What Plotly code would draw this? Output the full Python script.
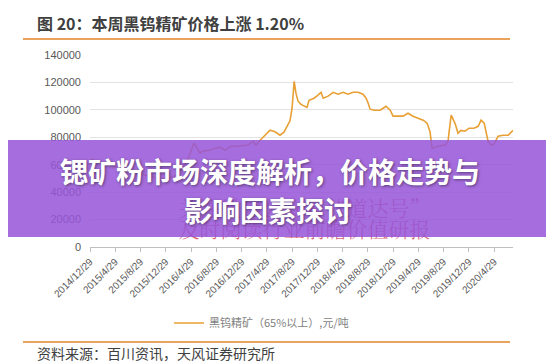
import plotly.graph_objects as go

# ---- data ----
dates = [
    "2014-12-29", "2015-02-16", "2015-04-05", "2015-05-24", "2015-07-12", "2015-08-30",
    "2015-10-18", "2015-12-06", "2016-01-14", "2016-02-22", "2016-03-22", "2016-04-20",
    "2016-04-29", "2016-05-13", "2016-05-28", "2016-06-11", "2016-06-26", "2016-07-30",
    "2016-08-23", "2016-09-16", "2016-10-10", "2016-11-08", "2016-12-12", "2017-01-29",
    "2017-02-22", "2017-03-08", "2017-03-28", "2017-04-21", "2017-05-15", "2017-06-08",
    "2017-07-02", "2017-07-21", "2017-08-10", "2017-08-19", "2017-08-29", "2017-09-08",
    "2017-09-17", "2017-09-27", "2017-10-11", "2017-10-26", "2017-11-09", "2017-11-19",
    "2017-12-13", "2018-01-01", "2018-01-16", "2018-01-26", "2018-02-19", "2018-03-15",
    "2018-04-08", "2018-05-02", "2018-05-26", "2018-06-19", "2018-07-13", "2018-08-06",
    "2018-08-21", "2018-08-31", "2018-09-09", "2018-09-28", "2018-10-27", "2018-11-11",
    "2018-11-25", "2018-12-15", "2018-12-29", "2019-02-15", "2019-03-11", "2019-04-04",
    "2019-04-29", "2019-05-23", "2019-06-11", "2019-06-25", "2019-07-05", "2019-08-03",
    "2019-09-06", "2019-09-20", "2019-09-25", "2019-10-05", "2019-10-24", "2019-11-07",
    "2019-11-21", "2019-12-11", "2019-12-30", "2020-01-23", "2020-02-12", "2020-02-26",
    "2020-03-12", "2020-03-21", "2020-03-31", "2020-04-15", "2020-04-29", "2020-05-18",
    "2020-06-11", "2020-07-06", "2020-07-29",
]
prices = [
    64000, 62000, 60000, 57000, 55000, 53000,
    51000, 49500, 50000, 53000, 58000, 66000,
    70000, 75700, 72000, 68400, 69900, 70600,
    72000, 72800, 70600, 73500, 73500, 74300,
    77200, 74300, 77900, 81500, 85200, 84000,
    81500, 83700, 89000, 92000, 101000, 120800,
    112000, 106300, 104000, 102600, 101800, 107000,
    108500, 110700, 112800, 108500, 110000, 112800,
    111400, 112800, 111400, 112800, 112800, 111400,
    108500, 104800, 100500, 99700, 99700, 101200,
    102600, 99700, 95400, 95400, 97500, 95400,
    93900, 92500, 90300, 84000, 72000, 73500,
    74300, 77200, 84000, 96100, 90000, 83000,
    85000, 84400, 86600, 86600, 88000, 92500,
    90300, 83000, 77000, 74300, 75000, 80800,
    81500, 81500, 85000,
]
tick_dates = [
    "2014-12-29", "2015-04-29", "2015-08-29", "2015-12-29", "2016-04-29", "2016-08-29",
    "2016-12-29", "2017-04-29", "2017-08-29", "2017-12-29", "2018-04-29", "2018-08-29",
    "2018-12-29", "2019-04-29", "2019-08-29", "2019-12-29", "2020-04-29",
]
tick_labels = [
    "2014/12/29", "2015/4/29", "2015/8/29", "2015/12/29", "2016/4/29", "2016/8/29",
    "2016/12/29", "2017/4/29", "2017/8/29", "2017/12/29", "2018/4/29", "2018/8/29",
    "2018/12/29", "2019/4/29", "2019/8/29", "2019/12/29", "2020/4/29",
]
series_name = "黑钨精矿（65%以上）,元/吨"
title_text = "图 20：本周黑钨精矿价格上涨 1.20%"
source_text = "资料来源：百川资讯，天风证券研究所"
banner_line1 = "锶矿粉市场深度解析，价格走势与"
banner_line2 = "影响因素探讨"
watermark = ["关注微信公众号“道达号”", "及时阅读行业前瞻价值研报"]

W, H = 554, 362
L, R, T, B = 82, 49, 47, 123
pw, ph = W - L - R, H - T - B


def px(x):
    return (x - L) / pw


def py(y):
    return (H - B - y) / ph


CJK = "Noto Sans CJK SC"
LAT = "Liberation Sans, Arial, sans-serif"
ORANGE_RULE = "#E9A35F"
LINE_COLOR = "#E8A035"

fig = go.Figure()
fig.add_trace(go.Scatter(
    x=dates, y=prices, mode="lines", name=series_name,
    line=dict(color=LINE_COLOR, width=1.6),
    hoverinfo="skip",
))
# watermark text (lies beneath the banner)
fig.add_trace(go.Scatter(
    x=[0.507, 0.507], y=[py(203), py(224)], xaxis="x2", yaxis="y2",
    mode="text", text=watermark, showlegend=False, cliponaxis=False,
    textfont=dict(family="Noto Serif CJK SC, " + CJK, size=21,
                  color="rgba(205,45,70,0.75)", weight=300),
    hoverinfo="skip",
))

fig.update_layout(
    width=W, height=H,
    margin=dict(l=L, r=R, t=T, b=B),
    paper_bgcolor="white", plot_bgcolor="white",
    showlegend=True,
    legend=dict(
        orientation="h", x=px(161), xanchor="left", y=py(315), yanchor="middle",
        font=dict(family=CJK, size=11, color="#7F7F7F"), itemwidth=30,
        bgcolor="rgba(0,0,0,0)",
    ),
    xaxis=dict(
        type="date", range=["2014-12-29", "2020-07-29"],
        tickvals=tick_dates, ticktext=tick_labels, tickangle=-45,
        tickfont=dict(family=LAT, size=10, color="#595959"),
        showgrid=False, showline=True, linecolor="#BFBFBF", linewidth=1,
        ticks="outside", ticklen=4, tickcolor="#BFBFBF", zeroline=False,
    ),
    yaxis=dict(
        range=[0, 140000], dtick=20000, tickformat="d",
        tickfont=dict(family=LAT, size=11, color="#595959"),
        showgrid=True, gridcolor="#E3E3E3", gridwidth=1,
        showline=False, zeroline=False, ticks="", ticklabelstandoff=8,
    ),
    xaxis2=dict(overlaying="x", range=[0, 1], visible=False),
    yaxis2=dict(overlaying="y", range=[0, 1], visible=False),
)

# rules above and below
fig.add_shape(type="line", xref="paper", yref="paper",
              x0=px(15), x1=px(502), y0=py(31), y1=py(31),
              line=dict(color=ORANGE_RULE, width=2))
fig.add_shape(type="line", xref="paper", yref="paper",
              x0=px(15), x1=px(502), y0=py(334), y1=py(334),
              line=dict(color=ORANGE_RULE, width=2))
# purple banner
fig.add_shape(type="rect", xref="paper", yref="paper", layer="above",
              x0=px(0), x1=px(W), y0=py(229), y1=py(132),
              fillcolor="rgba(150,85,215,0.86)", line=dict(width=0))

fig.add_annotation(xref="paper", yref="paper", x=px(27), y=py(15),
                   xanchor="left", yanchor="middle", showarrow=False,
                   text="<b>" + title_text + "</b>",
                   font=dict(family=CJK, size=16, color="#404040"))
fig.add_annotation(xref="paper", yref="paper", x=px(27), y=py(345),
                   xanchor="left", yanchor="middle", showarrow=False,
                   text=source_text,
                   font=dict(family=CJK, size=14, color="#404040"))
shadow = "1px 1px 3px rgba(0,0,0,0.45)"
fig.add_annotation(xref="paper", yref="paper", x=px(262), y=py(163),
                   xanchor="center", yanchor="middle", showarrow=False,
                   text="<b>" + banner_line1 + "</b>",
                   font=dict(family=CJK, size=28, color="white", shadow=shadow))
fig.add_annotation(xref="paper", yref="paper", x=px(260), y=py(202),
                   xanchor="center", yanchor="middle", showarrow=False,
                   text="<b>" + banner_line2 + "</b>",
                   font=dict(family=CJK, size=28, color="white", shadow=shadow))

fig.write_html("out.html")
